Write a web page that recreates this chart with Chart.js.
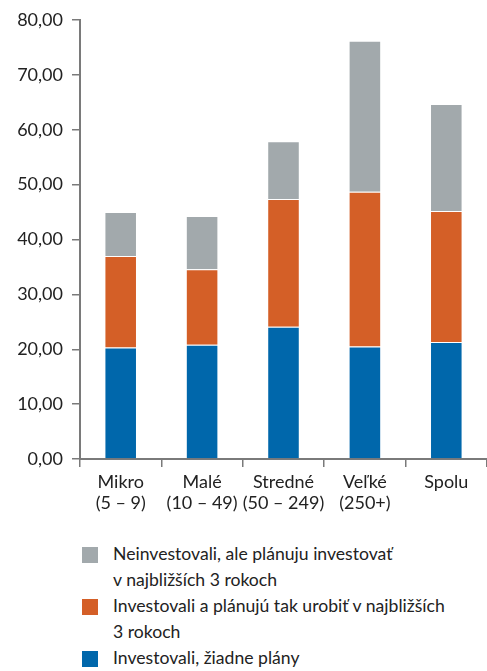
<!DOCTYPE html>
<html>
<head>
<meta charset="utf-8">
<script src="https://cdn.jsdelivr.net/npm/chart.js@4/dist/chart.umd.min.js"></script>
<style>
  body { margin: 0; background: #fff; font-family: Lato, sans-serif; }
  #wrap { position: relative; width: 487px; height: 530px; }
  #legend { position: absolute; left: 82px; top: 541px; width: 405px; font-size: 17.6px; line-height: 26px; color: #222; }
  .item { display: flex; align-items: flex-start; }
  .box { width: 16px; height: 16px; flex: none; margin-top: 6px; margin-right: 15px; }
  .txt { white-space: pre-line; }
</style>
</head>
<body>
<div id="wrap"><canvas id="chart"></canvas></div>
<div id="legend"></div>
<script>
const categories = [['Mikro', '(5 – 9)'], ['Malé', '(10 – 49)'], ['Stredné', '(50 – 249)'], ['Veľké', '(250+)'], 'Spolu'];
const noPlans = [20.3, 20.8, 24.1, 20.5, 21.3];
const investedAndPlan = [16.7, 13.8, 23.3, 28.2, 23.9];
const notInvestedButPlan = [8.0, 9.7, 10.5, 27.5, 19.5];
const seriesLabels = [
  'Investovali, žiadne plány',
  'Investovali a plánujú tak urobiť v najbližších\n3 rokoch',
  'Neinvestovali, ale plánuju investovať\nv najbližších 3 rokoch'
];
const colors = ['#0067AB', '#D45F27', '#A2A9AC'];

const datasets = [noPlans, investedAndPlan, notInvestedButPlan].map((d, i) => ({
  label: seriesLabels[i],
  data: d,
  backgroundColor: colors[i],
  borderColor: 'rgba(255,255,255,0.5)',
  borderWidth: 1,
  barPercentage: 0.4,
  categoryPercentage: 1
}));

const axisColor = '#7a7a7a';
const tickFont = { family: 'Lato', size: 18 };

new Chart(document.getElementById('chart'), {
  type: 'bar',
  data: { labels: categories, datasets },
  options: {
    responsive: true, maintainAspectRatio: false, animation: false,
    layout: { padding: { top: 20, right: 0, bottom: 0, left: 0 } },
    plugins: { legend: { display: false }, tooltip: { enabled: false } },
    scales: {
      x: {
        stacked: true,
        grid: { drawOnChartArea: false, drawTicks: true, tickLength: 8, color: axisColor, lineWidth: 1.5 },
        border: { color: axisColor, width: 2 },
        ticks: { color: '#222', font: tickFont, padding: 4, maxRotation: 0, autoSkip: false },
        afterFit: s => { s.height = 71; }
      },
      y: {
        stacked: true, min: 0, max: 80,
        grid: { drawOnChartArea: false, drawTicks: true, tickLength: 8, color: axisColor, lineWidth: 1.5 },
        border: { color: axisColor, width: 2 },
        ticks: { stepSize: 10, color: '#222', font: tickFont, padding: 9,
          callback: v => v.toFixed(2).replace('.', ',') },
        afterFit: s => { s.width = 80; }
      }
    }
  }
});

const legend = document.getElementById('legend');
for (let i = datasets.length - 1; i >= 0; i--) {
  const item = document.createElement('div');
  item.className = 'item';
  item.innerHTML = `<span class="box" style="background:${colors[i]}"></span><span class="txt">${seriesLabels[i]}</span>`;
  legend.appendChild(item);
}
</script>
</body>
</html>
